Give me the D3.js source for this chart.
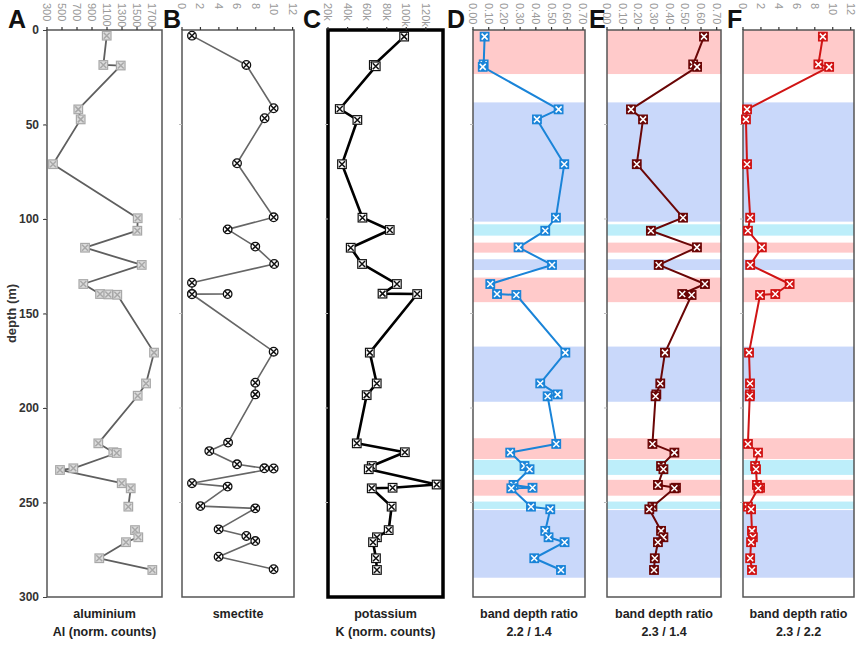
<!DOCTYPE html>
<html><head><meta charset="utf-8">
<script src="https://cdn.jsdelivr.net/npm/d3@7"></script>
<style>body{margin:0;background:#fff}svg{display:block}</style>
</head><body>
<svg id="c" width="858" height="646"></svg>
<script>
// ---------- data ----------
const depthTicks = [0, 50, 100, 150, 200, 250, 300];
const alTicks = [300, 500, 700, 900, 1100, 1300, 1500, 1700];
const smTicks = [0, 2, 4, 6, 8, 10, 12];
const kTicks = [20000, 40000, 60000, 80000, 100000, 120000];
const bdTicks = [0, 0.1, 0.2, 0.3, 0.4, 0.5, 0.6, 0.7];
const f3Ticks = [0, 2, 4, 6, 8, 10, 12];

const alDepth = [3, 18.5, 18.8, 42, 47.3, 71, 99.6, 106.2, 115.2, 124.3, 134.4, 139.7, 139.9, 140.1, 170.7, 187, 193.5, 218.7, 223.4, 223.8, 231.9, 232.8, 239.8, 242.5, 252.2, 253.6, 264.6, 268.4, 271, 279.5, 285.7];
const alValue = [1096, 1051, 1283, 717, 749, 380, 1509, 1504, 807, 1563, 784, 1007, 1117, 1237, 1727, 1620, 1509, 984, 1184, 1229, 651, 473, 1296, 1416, 1384, null, 1473, 1517, 1353, 997, 1704];

const smDepth = [3, 18.5, 41.4, 46.7, 70.5, 99.1, 105.5, 114.6, 123.8, 133.7, 139.6, 139.7, 139.8, 170.2, 186.6, 192.8, 218.3, 222.8, 229.8, 231.9, 232, 239.8, 241.6, 251.9, 253.1, 264.2, 267.7, 270.4, 278.7, 285.3];
const smValue = [1.08, 6.98, 9.94, 8.96, 5.97, 9.94, 4.95, 7.95, 10.0, 1.08, 1.08, 4.95, 1.08, 9.94, 7.95, 7.95, 5.0, 2.96, 5.97, 8.93, 9.94, 1.08, 4.95, 1.99, 7.95, 3.97, 6.98, 7.95, 3.97, 9.94];

const kDepth = [3.5, 18.5, 19.2, 41.8, 47.6, 71, 99.3, 105.8, 115.2, 123.8, 134.4, 139.5, 139.7, 170.7, 187, 193.2, 218.7, 223.4, 230.7, 232.4, 240.5, 242.2, 242.5, 252.2, 264.6, 268.4, 271, 279.5, 285.7];
const kValue = [97800, 66800, 68800, 32000, 50000, 34300, 55200, 83100, 43200, 54800, 90400, 75700, 111100, 62700, 69800, 59500, 49400, 98500, 64700, 61600, 131000, 86000, 64700, 85000, 82000, 70000, 66000, 69000, 70000];

const bdDepth = [3.5, 18.2, 19.5, 42, 47.3, 71, 99.3, 106.2, 115, 124.3, 134.4, 139.7, 140.2, 170.7, 187, 192.8, 193.8, 219, 223.6, 230.7, 232.4, 240.7, 242.2, 242.5, 252.2, 253.6, 265, 268.4, 271, 279.5, 285.7];
const r2214 = [0.074, 0.068, 0.062, 0.545, 0.407, 0.581, 0.528, 0.46, 0.29, 0.503, 0.11, 0.153, 0.276, 0.588, 0.428, 0.539, 0.475, 0.53, 0.237, 0.328, 0.36, 0.258, 0.379, 0.244, 0.369, 0.492, 0.46, 0.481, 0.583, 0.39, 0.56];
const r2314 = [0.619, 0.55, 0.575, 0.153, 0.23, 0.19, 0.485, 0.28, 0.574, 0.33, 0.625, 0.48, 0.54, 0.37, 0.34, 0.315, 0.31, 0.29, 0.43, 0.345, 0.36, 0.325, 0.44, 0.43, 0.29, 0.27, 0.345, 0.36, 0.325, 0.305, 0.3];
const r2322 = [8.9, 8.4, 9.6, 0.45, 0.33, 0.45, 0.8, 0.55, 2.1, 0.8, 5.2, 3.6, 1.9, 0.67, 0.78, 0.78, 0.75, 0.55, 1.67, 1.35, 1.45, 1.55, 1.9, 1.7, 0.55, 0.9, 1.0, 1.1, 0.9, 0.8, 1.0];

// spectral-class bands: [top depth, bottom depth, class]
const bandTop = [0, 38.3, 102.8, 112.5, 121.3, 131, 167.5, 216, 227.5, 238, 249.5, 254];
const bandBottom = [23.3, 101.4, 108.8, 117.8, 127, 144, 196.7, 227, 235.4, 246.4, 253.4, 289.8];
const bandClass = ["pink", "blue", "cyan", "pink", "blue", "pink", "blue", "pink", "cyan", "pink", "cyan", "blue"];

const panelLetters = ["A", "B", "C", "D", "E", "F"];
const labelLine1 = ["aluminium", "smectite", "potassium", "band depth ratio", "band depth ratio", "band depth ratio"];
const labelLine2 = ["Al (norm. counts)", "", "K (norm. counts)", "2.2 / 1.4", "2.3 / 1.4", "2.3 / 2.2"];

// ---------- layout ----------
const svg = d3.select("#c");
const y = d3.scaleLinear().domain([0, 300]).range([30, 597]);
const bandColor = {pink: "#ffcaca", blue: "#c9d8fa", cyan: "#bdeefa"};

const panels = [
  {x0: 47, x1: 162, dom: [300, 1833], ticks: alTicks, fmt: d => d, depth: alDepth, vals: alValue,
   line: "#5f5f5f", lw: 1.8, shape: "square", mFill: "#dcdcdc", mStroke: "#a8a8a8", xCol: "#a8a8a8", border: "#555", bw: 1.5, bands: false, lx: 8},
  {x0: 182, x1: 294, dom: [0, 12.15], ticks: smTicks, fmt: d => d, depth: smDepth, vals: smValue,
   line: "#666", lw: 1.6, shape: "circle", mFill: "#fff", mStroke: "#111", xCol: "#111", border: "#555", bw: 1.5, bands: false, lx: 163},
  {x0: 328, x1: 443, dom: [20000, 137500], ticks: kTicks, fmt: d => (d / 1000) + "k", depth: kDepth, vals: kValue,
   line: "#000", lw: 2.6, shape: "square", mFill: "#fff", mStroke: "#111", xCol: "#111", border: "#000", bw: 3.5, bands: false, lx: 303},
  {x0: 473, x1: 585, dom: [0, 0.713], ticks: bdTicks, fmt: d3.format(".2f"), depth: bdDepth, vals: r2214,
   line: "#1a84d8", lw: 2, shape: "square", mFill: "#1a84d8", mStroke: "#1a84d8", xCol: "#fff", border: "#555", bw: 1.5, bands: true, lx: 447},
  {x0: 607, x1: 721, dom: [0, 0.7275], ticks: bdTicks, fmt: d3.format(".2f"), depth: bdDepth, vals: r2314,
   line: "#6a0606", lw: 2, shape: "square", mFill: "#6a0606", mStroke: "#6a0606", xCol: "#fff", border: "#555", bw: 1.5, bands: true, lx: 589},
  {x0: 743, x1: 854, dom: [0, 12.37], ticks: f3Ticks, fmt: d => d, depth: bdDepth, vals: r2322,
   line: "#d01414", lw: 2, shape: "square", mFill: "#d01414", mStroke: "#d01414", xCol: "#fff", border: "#555", bw: 1.5, bands: true, lx: 727}
];

const FONT = "'Liberation Sans', Arial, sans-serif";

panels.forEach((p, i) => {
  const x = d3.scaleLinear().domain(p.dom).range([p.x0, p.x1]);
  const g = svg.append("g");

  if (p.bands) {
    g.selectAll("rect.band").data(bandTop.map((t, k) => ({t, b: bandBottom[k], c: bandClass[k]})))
      .join("rect").attr("class", "band")
      .attr("x", p.x0).attr("width", p.x1 - p.x0)
      .attr("y", d => y(d.t)).attr("height", d => y(d.b) - y(d.t))
      .attr("fill", d => bandColor[d.c]);
  }

  g.append("rect").attr("x", p.x0).attr("y", y(0)).attr("width", p.x1 - p.x0).attr("height", y(300) - y(0))
    .attr("fill", "none").attr("stroke", p.border).attr("stroke-width", p.bw);

  const tk = g.append("g");
  p.ticks.forEach(t => {
    tk.append("line").attr("x1", x(t)).attr("x2", x(t)).attr("y1", y(0) - 3).attr("y2", y(0))
      .attr("stroke", "#333").attr("stroke-width", 1.2);
    tk.append("text").attr("transform", `translate(${x(t)},3) rotate(90)`)
      .attr("text-anchor", "start").attr("dominant-baseline", "central")
      .attr("font-family", FONT).attr("font-size", 11).attr("fill", "#999")
      .text(p.fmt(t));
  });

  depthTicks.forEach(d => {
    if (d === 0 || d === 300) return;
    g.append("line").attr("x1", p.x0 - 3).attr("x2", p.x0).attr("y1", y(d)).attr("y2", y(d))
      .attr("stroke", "#bbb").attr("stroke-width", 1);
  });

  const pts = p.depth.map((d, k) => ({d, v: p.vals[k]}));
  const line = d3.line().defined(d => d.v !== null).x(d => x(d.v)).y(d => y(d.d));
  g.append("path").datum(pts).attr("d", line).attr("fill", "none")
    .attr("stroke", p.line).attr("stroke-width", p.lw).attr("stroke-linejoin", "round");

  const s = 4.3;
  const mk = g.selectAll("g.m").data(pts.filter(d => d.v !== null)).join("g")
    .attr("transform", d => `translate(${x(d.v)},${y(d.d)})`);
  if (p.shape === "circle") {
    mk.append("circle").attr("r", s).attr("fill", p.mFill).attr("stroke", p.mStroke).attr("stroke-width", 1.3);
  } else {
    mk.append("rect").attr("x", -s).attr("y", -s).attr("width", 2 * s).attr("height", 2 * s)
      .attr("fill", p.mFill).attr("stroke", p.mStroke).attr("stroke-width", 1.2);
  }
  mk.append("path").attr("d", `M${-s + 1.3},${-s + 1.3}L${s - 1.3},${s - 1.3}M${-s + 1.3},${s - 1.3}L${s - 1.3},${-s + 1.3}`)
    .attr("stroke", p.xCol).attr("stroke-width", 1.5);

  svg.append("text").attr("x", p.lx).attr("y", 28).attr("font-family", FONT)
    .attr("font-size", 25).attr("font-weight", "bold").attr("fill", "#111").text(panelLetters[i]);

  const cx = (p.x0 + p.x1) / 2;
  svg.append("text").attr("x", cx).attr("y", 618).attr("text-anchor", "middle").attr("font-family", FONT)
    .attr("font-size", 12.5).attr("font-weight", "bold").attr("fill", "#222").text(labelLine1[i]);
  if (labelLine2[i]) {
    svg.append("text").attr("x", cx).attr("y", 636).attr("text-anchor", "middle").attr("font-family", FONT)
      .attr("font-size", 12.5).attr("font-weight", "bold").attr("fill", "#222").text(labelLine2[i]);
  }
});

const ax = svg.append("g").attr("transform", "translate(47,0)")
  .call(d3.axisLeft(y).tickValues(depthTicks).tickSize(4).tickPadding(4));
ax.select(".domain").remove();
ax.selectAll("line").attr("stroke", "#444");
ax.selectAll("text").attr("font-family", FONT).attr("font-size", 12).attr("font-weight", "bold").attr("fill", "#333");

svg.append("text").attr("transform", `translate(16,${y(150)}) rotate(-90)`).attr("text-anchor", "middle")
  .attr("font-family", FONT).attr("font-size", 13).attr("font-weight", "bold").attr("fill", "#333").text("depth (m)");
</script>
</body></html>
